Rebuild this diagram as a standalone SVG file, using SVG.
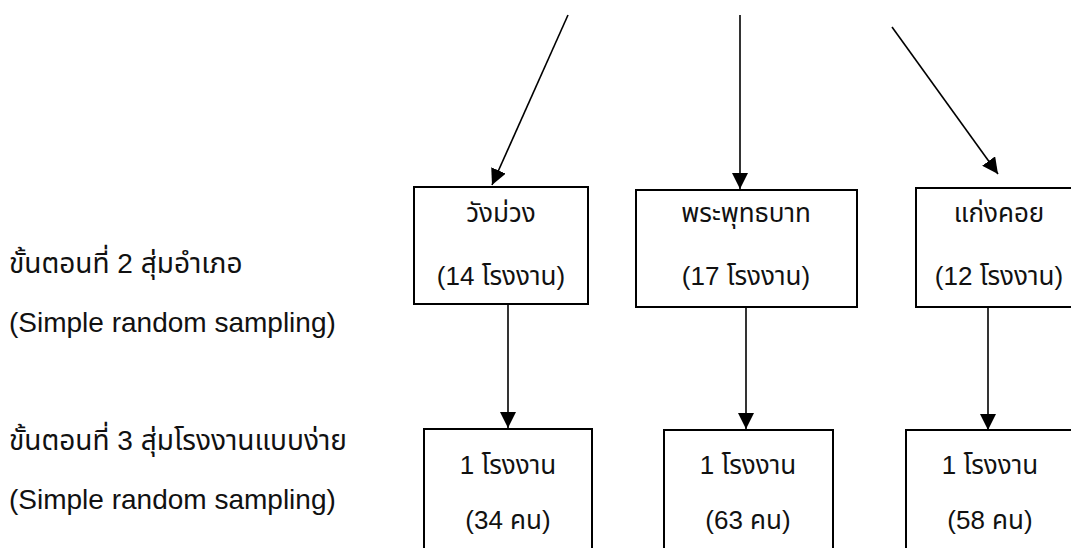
<svg xmlns="http://www.w3.org/2000/svg" width="1071" height="548" viewBox="0 0 1071 548">
<style>
text{font-family:"Liberation Sans","Noto Sans","Noto Sans Thai","DejaVu Sans",sans-serif;font-size:26px;fill:#111}
.lb{font-size:28px}
.c{text-anchor:middle}
.box{fill:#fff;stroke:#000;stroke-width:2}
.ln{stroke:#000;stroke-width:1.6;fill:none;marker-end:url(#ah)}
</style>
<defs>
<marker id="ah" markerUnits="userSpaceOnUse" markerWidth="16" markerHeight="16" viewBox="0 0 16 16" refX="16" refY="8" orient="auto">
<path d="M0,0 L16,8 L0,16 Z" fill="#000"/>
</marker>
</defs>
<rect width="1071" height="548" fill="#fff"/>
<g id="labels">
<text class="lb" x="9" y="273">ขั้นตอนที่ 2 สุ่มอำเภอ</text>
<text class="lb" x="9" y="332">(Simple random sampling)</text>
<text class="lb" x="9" y="450">ขั้นตอนที่ 3 สุ่มโรงงานแบบง่าย</text>
<text class="lb" x="9" y="509">(Simple random sampling)</text>
</g>
<g id="connectors">
<line class="ln" x1="568" y1="15" x2="492" y2="185"/>
<line class="ln" x1="740" y1="15" x2="740" y2="189"/>
<line class="ln" x1="892" y1="27" x2="998" y2="174"/>
<line class="ln" x1="508" y1="304" x2="508" y2="428"/>
<line class="ln" x1="746" y1="307" x2="746" y2="429"/>
<line class="ln" x1="988" y1="307" x2="988" y2="430"/>
</g>
<g id="n-wangmuang">
<rect class="box" x="414" y="187" width="174" height="117"/>
<text class="c" x="501" y="222">วังม่วง</text>
<text class="c" x="501" y="285">(14 โรงงาน)</text>
</g>
<g id="n-phraphutthabat">
<rect class="box" x="636" y="190" width="221" height="117"/>
<text class="c" x="746" y="222">พระพุทธบาท</text>
<text class="c" x="746" y="285">(17 โรงงาน)</text>
</g>
<g id="n-kaengkhoi">
<rect class="box" x="916" y="188" width="166" height="119"/>
<text class="c" x="999" y="222">แก่งคอย</text>
<text class="c" x="999" y="285">(12 โรงงาน)</text>
</g>
<g id="n-f1">
<rect class="box" x="424" y="429" width="168" height="130"/>
<text class="c" x="508" y="474">1 โรงงาน</text>
<text class="c" x="508" y="529">(34 คน)</text>
</g>
<g id="n-f2">
<rect class="box" x="664" y="430" width="169" height="130"/>
<text class="c" x="748" y="474">1 โรงงาน</text>
<text class="c" x="748" y="529">(63 คน)</text>
</g>
<g id="n-f3">
<rect class="box" x="906" y="430" width="168" height="130"/>
<text class="c" x="990" y="474">1 โรงงาน</text>
<text class="c" x="990" y="529">(58 คน)</text>
</g>
</svg>
